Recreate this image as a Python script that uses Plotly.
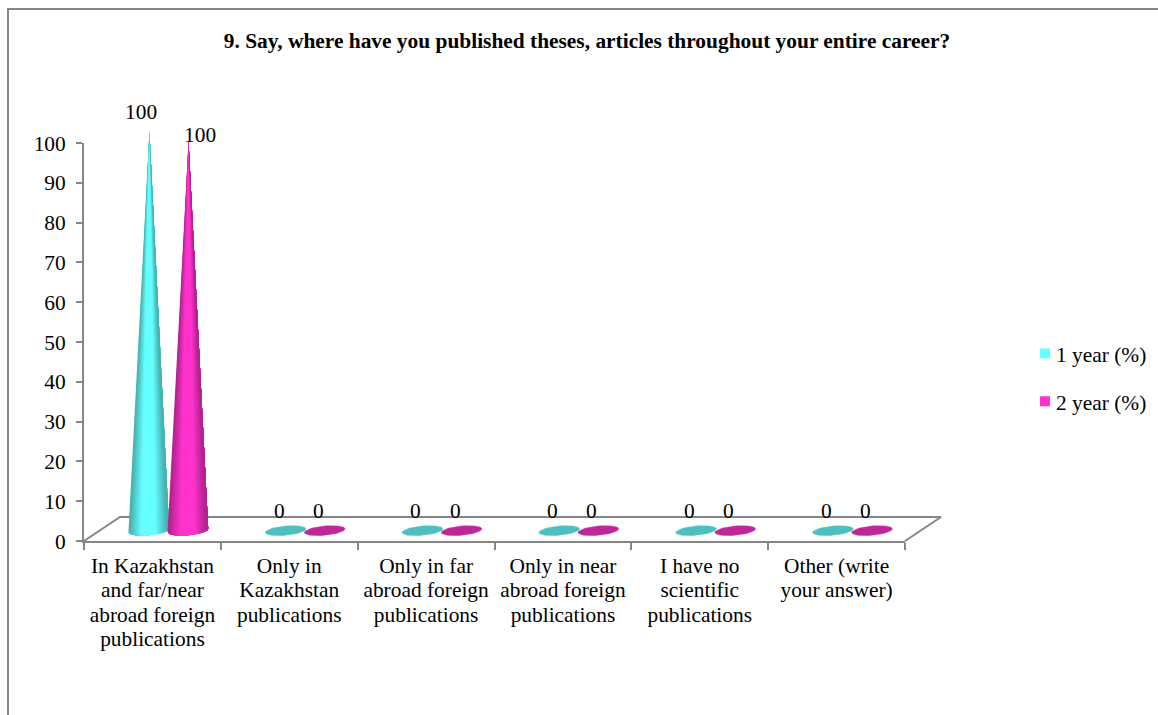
import math
import plotly.graph_objects as go

categories = [
    "In Kazakhstan<br>and far/near<br>abroad foreign<br>publications",
    "Only in<br>Kazakhstan<br>publications",
    "Only in far<br>abroad foreign<br>publications",
    "Only in near<br>abroad foreign<br>publications",
    "I have no<br>scientific<br>publications",
    "Other (write<br>your answer)",
]
year1 = [100, 0, 0, 0, 0, 0]
year2 = [100, 0, 0, 0, 0, 0]
y_ticks = list(range(0, 101, 10))

W, H = 1158, 715
X0, X1, Y0, Y1 = 84, 905, 541, 143
GRAY = "#868686"
FONT = "Liberation Serif"
FS = 21.4
CAT_PX = (X1 - X0) / 6
UNIT_PX = (Y0 - Y1) / 100
PAD_L, PAD_R, PAD_B, PAD_T = 10, 60, 10, 30  # extra drawing room for the 3-D marks

series = [
    dict(name="1 year (%)", vals=year1, off=-0.027, rgb=(102, 255, 255), flat="#4DBFBF",
         tip=0.2, lx=-8, ly0=30, ly=31, legend="#66FFFF"),
    dict(name="2 year (%)", vals=year2, off=0.259, rgb=(255, 51, 204), flat="#BF2699",
         tip=-2.3, lx=12, ly0=30, ly=8, legend="#FF33CC"),
]
lx0 = -6.5
BASE = 2.6
A = 20.3 / CAT_PX
B = 4.6 / UNIT_PX
TILT = 0.45

fig = go.Figure()

# floor
depth_x, depth_y = 36 / CAT_PX, 24 / UNIT_PX
fig.add_trace(go.Scatter(
    x=[0, depth_x, 6 + depth_x, 6], y=[0, depth_y, depth_y, 0], mode="lines", xaxis="x2", yaxis="y2",
    line=dict(color=GRAY, width=2), hoverinfo="skip", showlegend=False))


def shade(rgb, t):
    # t in -1..1 across the cone; bright in the middle, dark on the rims
    k = 0.70 + 0.30 * min(1.0, max(0.0, 1.6 - abs(t + 0.02) * 1.75))
    return "rgb(%d,%d,%d)" % tuple(round(c * k) for c in rgb)


annotations = []
for s in series:
    for i, v in enumerate(s["vals"]):
        cx = i + 0.5 + s["off"]
        if v > 0:
            n = 40
            for k in range(n):
                t0 = -1 + 2 * k / n
                xs, ys = [], []
                for j in range(41):
                    t = t0 + (1 - t0) * j / 40
                    xs.append(cx + A * t)
                    ys.append(BASE - B * math.sqrt(max(0, 1 - t * t)) + TILT * t)
                xs.append(cx + 0.005)
                ys.append(BASE + v + s["tip"])
                c = shade(s["rgb"], t0 + 1 / n)
                fig.add_trace(go.Scatter(
                    x=xs, y=ys, mode="lines", fill="toself", fillcolor=c, xaxis="x2", yaxis="y2",
                    line=dict(color=c, width=0), hoverinfo="skip", showlegend=False))
            annotations.append(dict(x=cx, y=v, xref="x", yref="y", text=str(v), showarrow=False,
                                    xshift=s["lx"], yshift=s["ly"], font=dict(size=FS, color="black")))
        else:
            pts = [2 * math.pi * a / 48 for a in range(49)]
            xs = [cx + A * math.cos(p) for p in pts]
            ys = [BASE + v + B * math.sin(p) + TILT * math.cos(p) for p in pts]
            fig.add_trace(go.Scatter(
                x=xs, y=ys, mode="lines", fill="toself", fillcolor=s["flat"], xaxis="x2", yaxis="y2",
                line=dict(color=s["flat"], width=0.5), hoverinfo="skip", showlegend=False))
            annotations.append(dict(x=cx, y=v, xref="x", yref="y", text=str(v), showarrow=False,
                                    xshift=lx0, yshift=s["ly0"], font=dict(size=FS, color="black")))
    fig.add_trace(go.Scatter(
        x=[None], y=[None], mode="markers", name=s["name"], legendgroup=s["name"],
        marker=dict(symbol="square", size=10, color=s["legend"])))

fig.update_layout(
    width=W, height=H, autosize=False,
    margin=dict(l=0, r=0, t=0, b=0, autoexpand=False),
    paper_bgcolor="white", plot_bgcolor="rgba(0,0,0,0)",
    font=dict(family=FONT, size=FS, color="black"),
    title=dict(text="<b>9. Say, where have you published theses, articles throughout your entire career?</b>",
               x=587 / W, xanchor="center", xref="paper", y=1 - 41 / H, yanchor="middle",
               yref="paper", font=dict(size=FS, family=FONT, color="black")),
    xaxis=dict(domain=[X0 / W, X1 / W], range=[0, 6], showgrid=False, zeroline=False,
               showline=True, linecolor=GRAY, linewidth=2,
               tickmode="array", tickvals=[i + 0.5 for i in range(6)], ticktext=categories,
               ticks="", ticklabelstandoff=4, tickangle=0,
               minor=dict(tickmode="array", tickvals=list(range(7)), ticks="outside",
                          ticklen=7, tickwidth=2, tickcolor=GRAY, showgrid=False),
               layer="below traces"),
    yaxis=dict(domain=[1 - Y0 / H, 1 - Y1 / H], range=[0, 100], showgrid=False, zeroline=False,
               showline=True, linecolor=GRAY, linewidth=2,
               tickmode="array", tickvals=y_ticks, ticks="outside", ticklen=6, tickwidth=2,
               tickcolor=GRAY, ticklabelstandoff=6, layer="below traces"),
    # same scale as the main axes, wider window: the 3-D floor and cone tips stick out of the plot area
    xaxis2=dict(domain=[(X0 - PAD_L) / W, (X1 + PAD_R) / W],
                range=[-PAD_L / CAT_PX, 6 + PAD_R / CAT_PX], visible=False, anchor="y2"),
    yaxis2=dict(domain=[1 - (Y0 + PAD_B) / H, 1 - (Y1 - PAD_T) / H],
                range=[-PAD_B / UNIT_PX, 100 + PAD_T / UNIT_PX], visible=False, anchor="x2"),
    legend=dict(x=1016 / W, xanchor="left", y=1 - 333 / H, yanchor="top", traceorder="grouped",
                tracegroupgap=17, bgcolor="rgba(0,0,0,0)", itemwidth=30,
                font=dict(size=FS, family=FONT, color="black")),
    annotations=annotations,
    shapes=[dict(type="rect", xref="paper", yref="paper", x0=8 / W, x1=1.02, y0=-0.02, y1=1 - 9 / H,
                 line=dict(color=GRAY, width=2), fillcolor="rgba(0,0,0,0)", layer="below")],
    showlegend=True,
)

post = """
document.body.style.margin='0';
var gd=document.getElementById('{plot_id}');
function fixLines(){
  gd.querySelectorAll('.xtick text tspan.line').forEach(function(t){
    var d=t.getAttribute('dy');
    if(d && d.indexOf('em')>0){t.setAttribute('dy',(parseFloat(d)/1.3*24.6)+'px');}
  });
  gd.querySelectorAll('.legend .legendpoints').forEach(function(p){
    p.setAttribute('transform','translate(9,0)');
  });
}
fixLines();
gd.on('plotly_afterplot',fixLines);
"""
fig.write_html("out.html", config={"displayModeBar": False}, post_script=post)
